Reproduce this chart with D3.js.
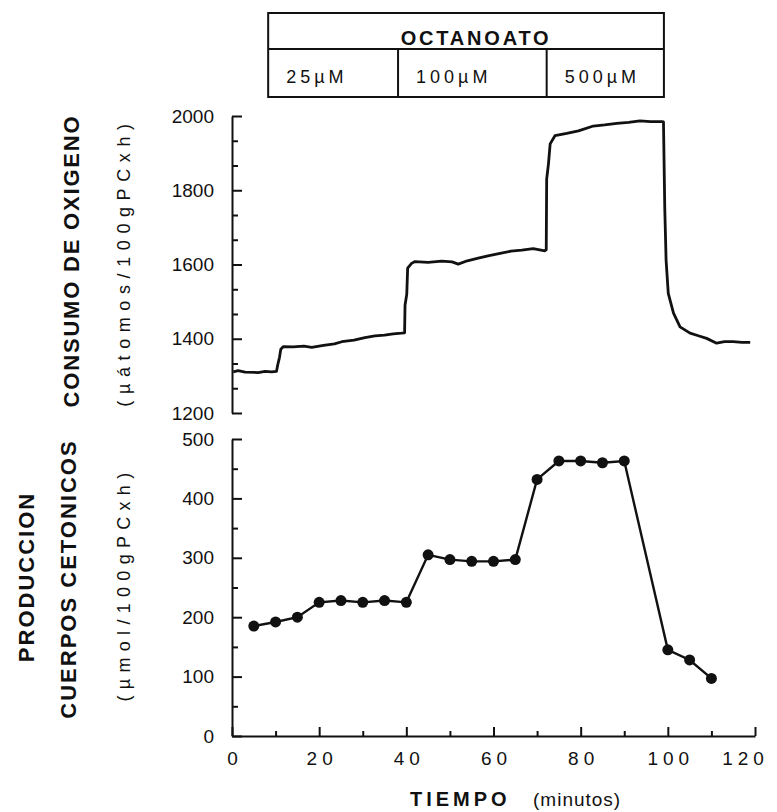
<!DOCTYPE html>
<html>
<head>
<meta charset="utf-8">
<script src="https://cdn.jsdelivr.net/npm/d3@7"></script>
<style>
  body { margin: 0; background: #fff; }
  text { font-family: "Liberation Sans", Arial, Helvetica, sans-serif; fill: #111; }
</style>
</head>
<body>
<div id="chart"></div>
<script>
const width = 777;
const height = 812;

// Octanoate periods (minutes) and concentrations shown in the header box
const periodEdges = [8.3, 38.1, 72.2, 99.1];
const concLabels = ["25\u00B5M", "100\u00B5M", "500\u00B5M"];

// Oxygen consumption trace
const oxyTime = [0.3, 1.4, 3.0, 6.0, 7.6, 9.1, 10.2, 10.5, 10.9, 11.2, 11.8, 14.0, 16.5, 18.3, 21.0, 23.5,
  25.2, 28.0, 30.5, 32.8, 35.0, 37.0, 38.9, 39.6, 39.7, 40.1, 40.3, 41.2, 42.0, 45.0, 48.1, 50.5, 51.9,
  54.0, 56.5, 59.0, 61.5, 64.0, 66.5, 69.1, 71.8, 72.1, 72.2, 72.6, 73.0, 74.1, 76.8, 79.5, 82.9, 85.5,
  88.3, 91.0, 93.6, 96.0, 98.6, 99.0, 99.3, 99.6, 100.1, 101.3, 102.8, 105.1, 107.0, 108.9, 111.2, 113.0,
  115.0, 117.0, 118.9];
const oxyValue = [1311, 1314, 1310, 1309, 1312, 1311, 1312, 1330, 1350, 1372, 1379, 1378, 1380, 1377, 1382, 1386,
  1392, 1396, 1403, 1408, 1410, 1413, 1415, 1416, 1490, 1520, 1590, 1603, 1608, 1606, 1609, 1607, 1601,
  1610, 1617, 1624, 1630, 1636, 1639, 1643, 1637, 1640, 1830, 1870, 1925, 1947, 1953, 1960, 1973, 1976,
  1980, 1983, 1987, 1985, 1985, 1984, 1750, 1612, 1522, 1469, 1432, 1415, 1408, 1401, 1388, 1392,
  1392, 1390, 1390];

// Ketone body production (sampled every 5 min)
const ketTime = [5, 10, 15, 20, 25, 30, 35, 40, 45, 50, 55, 60, 65, 70, 75, 80, 85, 90, 100, 105, 110];
const ketValue = [185, 192, 200, 225, 228, 225, 228, 225, 305, 297, 294, 294, 297, 432, 463, 463, 460, 463, 145, 128, 97];

// Axis ticks
const xMajor = [0, 20, 40, 60, 80, 100, 120];
const xMinor = [10, 30, 50, 70, 90, 110];
const oxyMajor = [1200, 1400, 1600, 1800, 2000];
const oxyMinor = [1266.7, 1333.3, 1466.7, 1533.3, 1666.7, 1733.3, 1866.7, 1933.3];
const ketMajor = [0, 100, 200, 300, 400, 500];
const ketMinor = [50, 150, 250, 350, 450];

const svg = d3.select("#chart")
    .append("svg")
    .attr("width", width)
    .attr("height", height);

const x = d3.scaleLinear().domain([0, 120]).range([232, 755]);
const yOxy = d3.scaleLinear().domain([1200, 2000]).range([413, 116]);
const yKet = d3.scaleLinear().domain([0, 500]).range([736, 439]);

function styleAxis(g) {
    g.selectAll("path, line").attr("stroke", "#111").attr("stroke-width", 2);
    g.selectAll("text").attr("font-size", 19).attr("fill", "#111");
}

// --- header box
const box = svg.append("g");
box.append("rect")
    .attr("x", x(periodEdges[0])).attr("y", 13)
    .attr("width", x(periodEdges[3]) - x(periodEdges[0])).attr("height", 84)
    .attr("fill", "none").attr("stroke", "#111").attr("stroke-width", 2);
box.append("line")
    .attr("x1", x(periodEdges[0])).attr("x2", x(periodEdges[3]))
    .attr("y1", 49).attr("y2", 49)
    .attr("stroke", "#111").attr("stroke-width", 2);
box.selectAll(".div").data(periodEdges.slice(1, 3)).enter().append("line")
    .attr("x1", d => x(d)).attr("x2", d => x(d))
    .attr("y1", 49).attr("y2", 97)
    .attr("stroke", "#111").attr("stroke-width", 2);
box.append("text")
    .attr("x", (x(periodEdges[0]) + x(periodEdges[3])) / 2 + 10).attr("y", 45)
    .attr("text-anchor", "middle").attr("font-weight", "bold")
    .attr("font-size", 20).attr("letter-spacing", 2.8)
    .text("OCTANOATO");
box.selectAll(".conc").data(concLabels).enter().append("text")
    .attr("x", (d, i) => x(periodEdges[i]) + 18)
    .attr("y", 83)
    .attr("font-size", 18).attr("letter-spacing", 4)
    .text(d => d);

// --- top panel: oxygen consumption
const gOxyMinor = svg.append("g").attr("transform", `translate(${x(0)},0)`)
    .call(d3.axisLeft(yOxy).tickValues(oxyMinor).tickSizeInner(-6).tickSizeOuter(0).tickFormat(""));
gOxyMinor.select(".domain").remove();
styleAxis(gOxyMinor);
const gOxy = svg.append("g").attr("transform", `translate(${x(0)},0)`)
    .call(d3.axisLeft(yOxy).tickValues(oxyMajor).tickSizeInner(-10).tickSizeOuter(0)
        .tickPadding(18).tickFormat(d3.format("d")));
styleAxis(gOxy);

svg.append("path")
    .datum(oxyTime.map((t, i) => [t, oxyValue[i]]))
    .attr("fill", "none").attr("stroke", "#111").attr("stroke-width", 2.8)
    .attr("stroke-linejoin", "round")
    .attr("d", d3.line().x(d => x(d[0])).y(d => yOxy(d[1])));

// --- bottom panel: ketone bodies
const gKetMinor = svg.append("g").attr("transform", `translate(${x(0)},0)`)
    .call(d3.axisLeft(yKet).tickValues(ketMinor).tickSizeInner(-6).tickSizeOuter(0).tickFormat(""));
gKetMinor.select(".domain").remove();
styleAxis(gKetMinor);
const gKet = svg.append("g").attr("transform", `translate(${x(0)},0)`)
    .call(d3.axisLeft(yKet).tickValues(ketMajor).tickSizeInner(-10).tickSizeOuter(0)
        .tickPadding(18).tickFormat(d3.format("d")));
styleAxis(gKet);

const gXMinor = svg.append("g").attr("transform", `translate(0,${yKet(0)})`)
    .call(d3.axisBottom(x).tickValues(xMinor).tickSizeInner(-5).tickSizeOuter(0).tickFormat(""));
gXMinor.select(".domain").remove();
styleAxis(gXMinor);
const gX = svg.append("g").attr("transform", `translate(0,${yKet(0)})`)
    .call(d3.axisBottom(x).tickValues(xMajor).tickSizeInner(-9).tickSizeOuter(0).tickPadding(16));
styleAxis(gX);
gX.selectAll("text").attr("letter-spacing", 5)
    .attr("dx", d => d === 120 ? -10 : 2.5);

const ket = ketTime.map((t, i) => [t, ketValue[i]]);
svg.append("path")
    .datum(ket)
    .attr("fill", "none").attr("stroke", "#111").attr("stroke-width", 2.4)
    .attr("d", d3.line().x(d => x(d[0])).y(d => yKet(d[1])));
svg.selectAll(".dot").data(ket).enter().append("circle")
    .attr("cx", d => x(d[0])).attr("cy", d => yKet(d[1]))
    .attr("r", 5.5).attr("fill", "#111");

// --- axis titles
function vLabel(cx, cy, txt, opts) {
    svg.append("text")
        .attr("transform", `translate(${cx},${cy}) rotate(-90)`)
        .attr("text-anchor", "middle")
        .attr("font-size", opts.size)
        .attr("font-weight", opts.bold ? "bold" : "normal")
        .attr("letter-spacing", opts.spacing)
        .text(txt);
}
vLabel(79, 261, "CONSUMO DE OXIGENO", { size: 22, bold: true, spacing: 1.8 });
vLabel(130, 262, "(\u00B5\u00E1tomos/100gPCxh)", { size: 18, bold: false, spacing: 6.6 });
vLabel(34, 577, "PRODUCCION", { size: 22, bold: true, spacing: 2 });
vLabel(76, 579, "CUERPOS CETONICOS", { size: 22, bold: true, spacing: 2 });
vLabel(130, 584, "(\u00B5mol/100gPCxh)", { size: 18, bold: false, spacing: 6.3 });

svg.append("text")
    .attr("x", 410).attr("y", 806)
    .attr("font-size", 20).attr("font-weight", "bold").attr("letter-spacing", 4)
    .text("TIEMPO");
svg.append("text")
    .attr("x", 533).attr("y", 806)
    .attr("font-size", 19).attr("letter-spacing", 1)
    .text("(minutos)");
</script>
</body>
</html>
